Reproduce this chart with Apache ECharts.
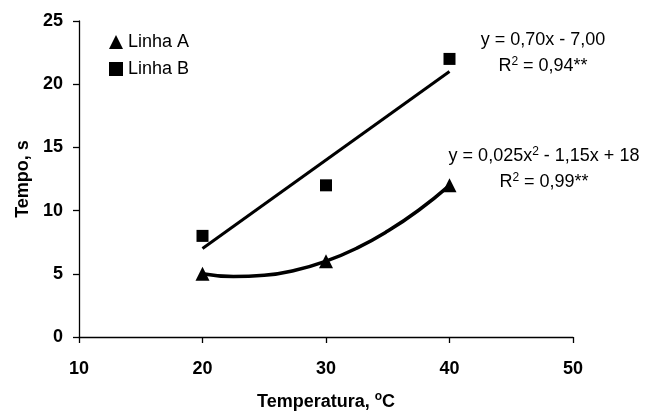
<!DOCTYPE html>
<html>
<head>
<meta charset="utf-8">
<script src="https://cdn.jsdelivr.net/npm/echarts@6/dist/echarts.min.js"></script>
<style>html,body{margin:0;padding:0;background:#fff}#c{width:646px;height:412px}</style>
</head>
<body>
<div id="c"></div>
<script>
var xTicks = [10, 20, 30, 40, 50];
var yTicks = [0, 5, 10, 15, 20, 25];
var tempA = [20, 30, 40];
var linhaA = [5, 6, 12];
var tempB = [20, 30, 40];
var linhaB = [8, 12, 22];
var trendBX = [20, 40];
var trendBY = [7, 21];
var curveAX = [20, 22.5, 25, 27.5, 30, 32.5, 35, 37.5, 40];
var curveAY = [5, 4.78, 4.88, 5.28, 6, 7.03, 8.38, 10.03, 12];
var eqB = ['y = 0,70x - 7,00', 'R{sup|2} = 0,94**'];
var eqA = ['y = 0,025x{sup|2} - 1,15x + 18', 'R{sup|2} = 0,99**'];

function pairs(xs, ys) { return xs.map(function (x, i) { return [x, ys[i]]; }); }

var FONT = 'Liberation Sans, Arial, sans-serif';
var chart = echarts.init(document.getElementById('c'));
var richText = {
  sup: { fontSize: 12, fontFamily: FONT, color: '#000', padding: [0, 0, 9, 0] }
};
function eqText(lines, x, y) {
  return lines.map(function (t, i) {
    return {
      type: 'text', x: x, y: y + i * 26,
      style: {
        text: t, fontFamily: FONT, fontSize: 18, fill: '#000',
        textAlign: 'center', textVerticalAlign: 'middle', rich: richText
      }
    };
  });
}
chart.setOption({
  animation: false,
  backgroundColor: '#fff',
  grid: { left: 79, right: 73, top: 21, bottom: 75, containLabel: false, outerBoundsMode: 'none' },
  legend: {
    orient: 'vertical', left: 104, top: 28, itemGap: 9, itemWidth: 14, itemHeight: 14,
    textStyle: { fontFamily: FONT, fontSize: 18, color: '#000' },
    data: [
      { name: 'Linha A', icon: 'triangle' },
      { name: 'Linha B', icon: 'rect' }
    ]
  },
  xAxis: {
    type: 'value', min: xTicks[0], max: xTicks[xTicks.length - 1], interval: 10,
    name: 'Temperatura, {sup|o}C', nameLocation: 'middle', nameGap: 54,
    nameTextStyle: {
      fontFamily: FONT, fontSize: 18, fontWeight: 'bold', color: '#000',
      rich: { sup: { fontSize: 12, fontWeight: 'bold', fontFamily: FONT, color: '#000', padding: [0, 0, 10, 0] } }
    },
    axisLine: { lineStyle: { color: '#000', width: 1.3 } },
    axisTick: { inside: false, length: 6, lineStyle: { color: '#000', width: 1.3 } },
    axisLabel: { margin: 23, fontFamily: FONT, fontSize: 18, fontWeight: 'bold', color: '#000' },
    splitLine: { show: false }
  },
  yAxis: {
    type: 'value', min: yTicks[0], max: yTicks[yTicks.length - 1], interval: 5,
    name: 'Tempo, s', nameLocation: 'middle', nameGap: 47,
    nameTextStyle: { fontFamily: FONT, fontSize: 18, fontWeight: 'bold', color: '#000' },
    axisLine: { show: true, lineStyle: { color: '#000', width: 1.3 } },
    axisTick: { show: true, inside: false, length: 6, lineStyle: { color: '#000', width: 1.3 } },
    axisLabel: { margin: 16, fontFamily: FONT, fontSize: 18, fontWeight: 'bold', color: '#000' },
    splitLine: { show: false }
  },
  series: [
    {
      name: 'trendB', type: 'line', data: pairs(trendBX, trendBY), showSymbol: false,
      lineStyle: { color: '#000', width: 3 }, silent: true, z: 2
    },
    {
      name: 'curveA', type: 'line', data: pairs(curveAX, curveAY), showSymbol: false, smooth: true,
      lineStyle: { color: '#000', width: 3.5 }, silent: true, z: 2
    },
    {
      name: 'Linha A', type: 'scatter', data: pairs(tempA, linhaA), symbol: 'triangle', symbolSize: [14, 14],
      itemStyle: { color: '#000', opacity: 1 }, z: 3
    },
    {
      name: 'Linha B', type: 'scatter', data: pairs(tempB, linhaB), symbol: 'rect', symbolSize: 12,
      itemStyle: { color: '#000', opacity: 1 }, z: 3
    }
  ],
  graphic: eqText(eqB, 543, 40).concat(eqText(eqA, 544, 156))
});
</script>
</body>
</html>
